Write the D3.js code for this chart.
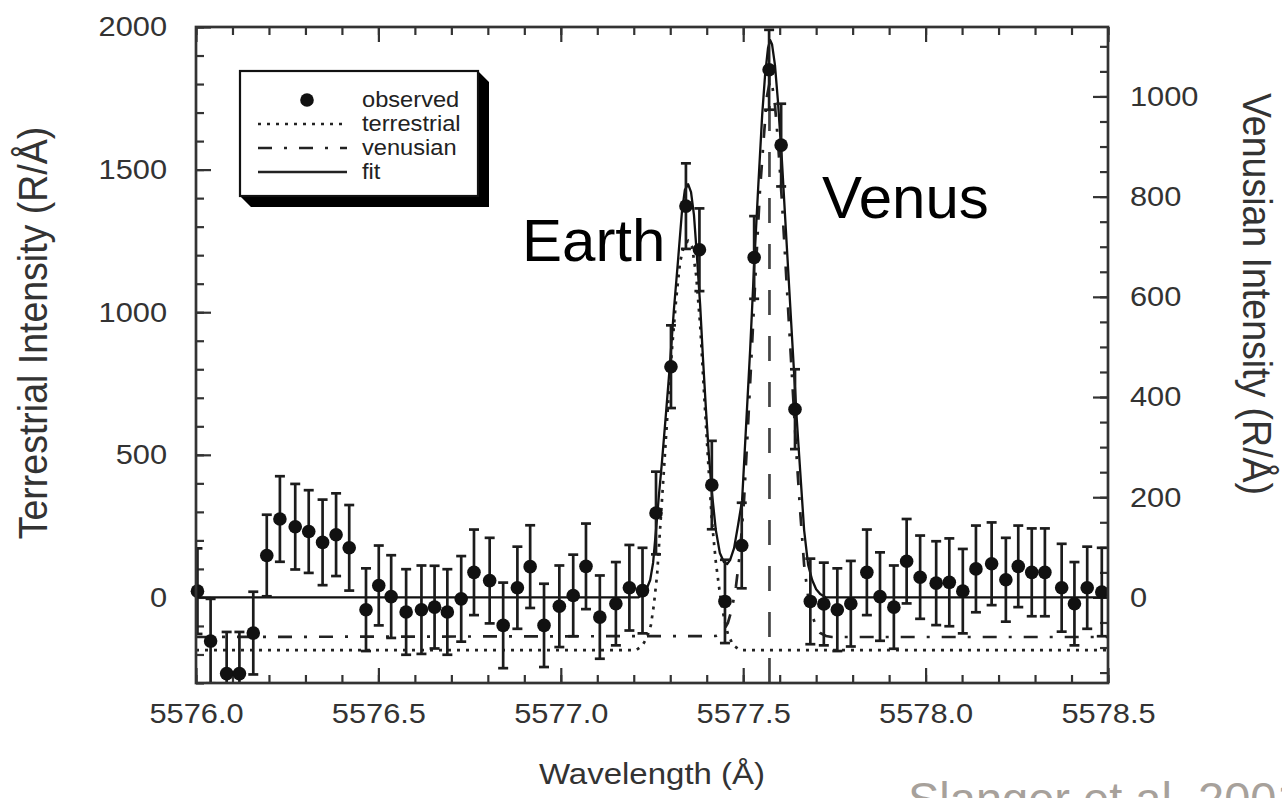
<!DOCTYPE html>
<html>
<head>
<meta charset="utf-8">
<title>O(1S) green line: terrestrial and venusian emission</title>
<script src="https://cdn.jsdelivr.net/npm/d3@7"></script>
<style>
  html, body { margin: 0; padding: 0; background: #fff; }
  svg { display: block; }
</style>
</head>
<body>
<svg id="chart" width="1282" height="798"></svg>
<script>
// ---------- data ----------
// observed spectrum: wavelength (Å), terrestrial-scale intensity (R/Å), 1-sigma error
const wavelength = [5576.004, 5576.040, 5576.084, 5576.119, 5576.157, 5576.194, 5576.230, 5576.272, 5576.309, 5576.347,
  5576.384, 5576.420, 5576.466, 5576.501, 5576.535, 5576.576, 5576.618, 5576.654, 5576.689, 5576.727,
  5576.762, 5576.805, 5576.842, 5576.881, 5576.916, 5576.954, 5576.996, 5577.034, 5577.069, 5577.107,
  5577.151, 5577.188, 5577.224, 5577.261, 5577.302, 5577.343, 5577.380, 5577.414, 5577.450, 5577.496,
  5577.530, 5577.571, 5577.604, 5577.642, 5577.684, 5577.721, 5577.758, 5577.795, 5577.839, 5577.875,
  5577.913, 5577.948, 5577.985, 5578.029, 5578.065, 5578.102, 5578.138, 5578.181, 5578.220, 5578.254,
  5578.291, 5578.327, 5578.373, 5578.408, 5578.443, 5578.483];
const observed = [22, -153, -267, -267, -125, 147, 275, 248, 231, 193,
  220, 174, -43, 42, 3, -51, -43, -34, -51, -5,
  88, 59, -98, 34, 108, -98, -31, 7, 109, -69,
  -22, 34, 24, 296, 809, 1372, 1219, 394, -14, 182,
  1192, 1850, 1586, 660, -14, -23, -43, -22, 88, 3,
  -34, 127, 71, 50, 53, 22, 100, 118, 62, 109,
  88, 88, 34, -22, 34, 19];
const observedErr = [150, 148, 146, 146, 145, 143, 150, 150, 145, 150,
  145, 150, 145, 140, 145, 150, 155, 145, 150, 150,
  150, 150, 150, 144, 145, 146, 143, 143, 150, 146,
  146, 150, 150, 145, 145, 150, 145, 155, 146, 150,
  145, 140, 145, 140, 150, 145, 145, 150, 150, 155,
  146, 148, 146, 147, 154, 148, 152, 145, 147, 143,
  154, 154, 154, 146, 144, 155];

// total fit (terrestrial scale)
const fitWavelength = [5576.000, 5577.212, 5577.223, 5577.234, 5577.245, 5577.253, 5577.261, 5577.269, 5577.277, 5577.288,
  5577.299, 5577.310, 5577.321, 5577.332, 5577.340, 5577.349, 5577.357, 5577.365, 5577.373, 5577.382,
  5577.390, 5577.398, 5577.406, 5577.414, 5577.425, 5577.436, 5577.447, 5577.456, 5577.464, 5577.475,
  5577.486, 5577.497, 5577.508, 5577.519, 5577.530, 5577.541, 5577.552, 5577.560, 5577.568, 5577.574,
  5577.579, 5577.587, 5577.595, 5577.606, 5577.617, 5577.628, 5577.639, 5577.647, 5577.656, 5577.667,
  5577.678, 5577.689, 5577.700, 5577.711, 5577.727, 5578.500];
const fitValue = [0, 0, 8, 26, 61, 121, 236, 359, 471, 640,
  815, 1008, 1176, 1351, 1428, 1449, 1421, 1341, 1200, 1025,
  832, 657, 499, 370, 236, 156, 124, 117, 131, 173,
  254, 341, 604, 867, 1165, 1435, 1691, 1832, 1926, 1954,
  1940, 1867, 1744, 1534, 1288, 1043, 797, 622, 447, 236,
  114, 61, 29, 12, 0, 0];

// terrestrial component (terrestrial scale, drawn offset below zero)
const terrWavelength = [5576.000, 5577.206, 5577.223, 5577.236, 5577.247, 5577.255, 5577.264, 5577.272, 5577.283, 5577.294,
  5577.305, 5577.316, 5577.327, 5577.338, 5577.349, 5577.360, 5577.371, 5577.382, 5577.393, 5577.404,
  5577.414, 5577.425, 5577.436, 5577.447, 5577.458, 5577.472, 5577.491, 5578.500];
const terrValue = [-185, -185, -170, -141, -97, -27, 79, 236, 453, 675,
  874, 1043, 1176, 1236, 1250, 1229, 1130, 955, 710, 475,
  271, 124, 15, -69, -128, -167, -185, -185];

// venusian component (venusian scale, drawn offset below zero)
const venWavelength = [5576.000, 5577.425, 5577.436, 5577.447, 5577.458, 5577.469, 5577.480, 5577.491, 5577.502, 5577.513,
  5577.524, 5577.535, 5577.546, 5577.557, 5577.565, 5577.574, 5577.579, 5577.587, 5577.595, 5577.606,
  5577.617, 5577.628, 5577.639, 5577.647, 5577.656, 5577.667, 5577.678, 5577.689, 5577.700, 5577.711,
  5577.727, 5577.743, 5578.500];
const venValue = [-79, -77, -73, -65, -51, -23, 21, 89, 190, 340,
  500, 661, 813, 923, 1000, 1033, 1025, 983, 913, 793,
  653, 514, 374, 274, 174, 65, 1, -35, -59, -71,
  -77, -79, -79];

// rest wavelength of the venusian line (vertical marker)
const venusLineCenter = 5577.572;
const venusLineTop = 1850;

// axes
const xDomain = [5576.0, 5578.5];
const terrDomain = [-300, 2000];
const venDomain = [-170.8, 1138.6];
const xTickValues = [5576.0, 5576.5, 5577.0, 5577.5, 5578.0, 5578.5];
const xTickLabels = ["5576.0", "5576.5", "5577.0", "5577.5", "5578.0", "5578.5"];
const terrTickValues = [0, 500, 1000, 1500, 2000];
const terrTickLabels = ["0", "500", "1000", "1500", "2000"];
const venTickValues = [0, 200, 400, 600, 800, 1000];
const venTickLabels = ["0", "200", "400", "600", "800", "1000"];

const legendEntries = ["observed", "terrestrial", "venusian", "fit"];

// ---------- layout ----------
const frame = { left: 196, right: 1108, top: 27, bottom: 683 };
const ink = "#333";
const FONT = "'Liberation Sans', Arial, Helvetica, sans-serif";
const WIDEN = 1.1;   // glyph width factor for the plot lettering

const svg = d3.select("#chart");

const x = d3.scaleLinear().domain(xDomain).range([frame.left, frame.right]);
const yT = d3.scaleLinear().domain(terrDomain).range([frame.bottom, frame.top]);
const yV = d3.scaleLinear().domain(venDomain).range([frame.bottom, frame.top]);

svg.append("defs").append("clipPath").attr("id", "plotClip")
  .append("rect")
  .attr("x", frame.left).attr("y", frame.top)
  .attr("width", frame.right - frame.left).attr("height", frame.bottom - frame.top);

// widen text horizontally around its own anchor
function widen(sel, k = WIDEN) {
  sel.each(function () {
    const t = d3.select(this);
    const x0 = +t.attr("x") || 0;
    t.attr("x", x0 / k).attr("transform", `scale(${k},1)`);
  });
}

function styleAxis(g, size) {
  g.select(".domain").remove();
  g.selectAll("line").attr("stroke", ink).attr("stroke-width", 2.2);
  g.selectAll("text")
    .attr("fill", ink)
    .style("font-family", FONT)
    .style("font-size", size + "px");
}

const majorLen = 15, minorLen = 8;

// bottom axis
const xMinor = d3.range(0, 26).map(i => 5576 + i * 0.1);
svg.append("g").attr("transform", `translate(0,${frame.bottom})`)
  .call(d3.axisBottom(x).tickValues(xMinor).tickSize(-minorLen).tickSizeOuter(0).tickFormat(""))
  .call(g => styleAxis(g, 28));
const gxb = svg.append("g").attr("transform", `translate(0,${frame.bottom})`)
  .call(d3.axisBottom(x).tickValues(xTickValues).tickSize(-majorLen).tickSizeOuter(0).tickPadding(20)
    .tickFormat((d, i) => xTickLabels[i]))
  .call(g => styleAxis(g, 28));
widen(gxb.selectAll("text"));

// top axis
svg.append("g").attr("transform", `translate(0,${frame.top})`)
  .call(d3.axisTop(x).tickValues(xMinor).tickSize(-minorLen).tickSizeOuter(0).tickFormat(""))
  .call(g => styleAxis(g, 28));
svg.append("g").attr("transform", `translate(0,${frame.top})`)
  .call(d3.axisTop(x).tickValues(xTickValues).tickSize(-majorLen).tickSizeOuter(0).tickFormat(""))
  .call(g => styleAxis(g, 28));

// left axis (terrestrial)
const tMinor = d3.range(-3, 21).map(i => i * 100);
svg.append("g").attr("transform", `translate(${frame.left},0)`)
  .call(d3.axisLeft(yT).tickValues(tMinor).tickSize(-minorLen).tickSizeOuter(0).tickFormat(""))
  .call(g => styleAxis(g, 28));
const gyl = svg.append("g").attr("transform", `translate(${frame.left},0)`)
  .call(d3.axisLeft(yT).tickValues(terrTickValues).tickSize(-majorLen).tickSizeOuter(0).tickPadding(29)
    .tickFormat((d, i) => terrTickLabels[i]))
  .call(g => styleAxis(g, 28));
widen(gyl.selectAll("text"));

// right axis (venusian)
const vMinor = d3.range(-3, 23).map(i => i * 50);
svg.append("g").attr("transform", `translate(${frame.right},0)`)
  .call(d3.axisRight(yV).tickValues(vMinor).tickSize(-minorLen).tickSizeOuter(0).tickFormat(""))
  .call(g => styleAxis(g, 28));
const gyr = svg.append("g").attr("transform", `translate(${frame.right},0)`)
  .call(d3.axisRight(yV).tickValues(venTickValues).tickSize(-majorLen).tickSizeOuter(0).tickPadding(22)
    .tickFormat((d, i) => venTickLabels[i]))
  .call(g => styleAxis(g, 28));
widen(gyr.selectAll("text"));

// ---------- curves ----------
const plot = svg.append("g").attr("clip-path", "url(#plotClip)");

const terrLine = d3.line().x((d, i) => x(terrWavelength[i])).y(d => yT(d));
const venLine = d3.line().x((d, i) => x(venWavelength[i])).y(d => yV(d));
const fitLine = d3.line().x((d, i) => x(fitWavelength[i])).y(d => yT(d));

plot.append("path").attr("d", terrLine(terrValue))
  .attr("fill", "none").attr("stroke", "#222").attr("stroke-width", 2.7)
  .attr("stroke-dasharray", "3,6");

plot.append("path").attr("d", venLine(venValue))
  .attr("fill", "none").attr("stroke", "#222").attr("stroke-width", 2.7)
  .attr("stroke-dasharray", "14,12,3,12");

plot.append("line")
  .attr("x1", x(venusLineCenter)).attr("x2", x(venusLineCenter))
  .attr("y1", yT(terrDomain[0])).attr("y2", yT(venusLineTop))
  .attr("stroke", "#444").attr("stroke-width", 2.7)
  .attr("stroke-dasharray", "25,21");

plot.append("path").attr("d", fitLine(fitValue))
  .attr("fill", "none").attr("stroke", "#111").attr("stroke-width", 2.3)
  .attr("stroke-linejoin", "round");

// error bars
const cap = 5;
const eb = plot.append("g").attr("stroke", "#1c1c1c").attr("stroke-width", 2.7);
wavelength.forEach((w, i) => {
  const cx = x(w), lo = yT(observed[i] - observedErr[i]), hi = yT(observed[i] + observedErr[i]);
  eb.append("line").attr("x1", cx).attr("x2", cx).attr("y1", lo).attr("y2", hi);
  eb.append("line").attr("x1", cx - cap).attr("x2", cx + cap).attr("y1", hi).attr("y2", hi);
  eb.append("line").attr("x1", cx - cap).attr("x2", cx + cap).attr("y1", lo).attr("y2", lo);
});

// observed points
svg.append("g").selectAll("circle")
  .data(observed)
  .join("circle")
  .attr("cx", (d, i) => x(wavelength[i]))
  .attr("cy", d => yT(d))
  .attr("r", 6.8)
  .attr("fill", "#111");

// frame
svg.append("rect")
  .attr("x", frame.left).attr("y", frame.top)
  .attr("width", frame.right - frame.left).attr("height", frame.bottom - frame.top)
  .attr("fill", "none").attr("stroke", ink).attr("stroke-width", 2.7);

// ---------- legend ----------
const lg = { x0: 240, y0: 71, x1: 478, y1: 196, depth: 11 };
const legend = svg.append("g");
legend.append("polygon")
  .attr("points", [
    [lg.x1, lg.y0], [lg.x1 + lg.depth, lg.y0 + lg.depth], [lg.x1 + lg.depth, lg.y1 + lg.depth],
    [lg.x0 + lg.depth, lg.y1 + lg.depth], [lg.x0, lg.y1], [lg.x1, lg.y1]
  ].map(p => p.join(",")).join(" "))
  .attr("fill", "#000");
legend.append("rect")
  .attr("x", lg.x0).attr("y", lg.y0)
  .attr("width", lg.x1 - lg.x0).attr("height", lg.y1 - lg.y0)
  .attr("fill", "#fff").attr("stroke", "#111").attr("stroke-width", 2.2);

const rowY = [100, 124, 148, 172];
const sampleX = [258, 347];
legend.append("circle").attr("cx", 307).attr("cy", rowY[0]).attr("r", 6.8).attr("fill", "#111");
const sampleDash = [null, "3,6", "14,12,3,12", null];
[1, 2, 3].forEach(i => {
  legend.append("line")
    .attr("x1", sampleX[0]).attr("x2", sampleX[1])
    .attr("y1", rowY[i]).attr("y2", rowY[i])
    .attr("stroke", "#222").attr("stroke-width", i === 3 ? 2.3 : 2.7)
    .attr("stroke-dasharray", sampleDash[i]);
});
legend.selectAll("g.entry")
  .data(legendEntries)
  .join("g").attr("class", "entry")
  .attr("transform", (d, i) => `translate(362,${rowY[i] + 7})`)
  .append("text")
  .attr("transform", `scale(${WIDEN},1)`)
  .attr("fill", "#222")
  .style("font-family", FONT)
  .style("font-size", "21.5px")
  .text(d => d);

// ---------- titles ----------
svg.append("g").attr("transform", "translate(652,784)")
  .append("text")
  .attr("transform", `scale(${WIDEN},1)`)
  .attr("text-anchor", "middle")
  .attr("fill", ink)
  .style("font-family", FONT).style("font-size", "30px")
  .text("Wavelength (Å)");

svg.append("text")
  .attr("transform", `translate(47,333) rotate(-90) scale(1,${WIDEN})`)
  .attr("text-anchor", "middle")
  .attr("fill", ink)
  .style("font-family", FONT).style("font-size", "37.5px")
  .text("Terrestrial Intensity (R/Å)");

svg.append("text")
  .attr("transform", `translate(1243,294) rotate(90) scale(1,${WIDEN})`)
  .attr("text-anchor", "middle")
  .attr("fill", ink)
  .style("font-family", FONT).style("font-size", "37.5px")
  .text("Venusian Intensity (R/Å)");

// ---------- annotations ----------
svg.append("text").attr("x", 522).attr("y", 261)
  .attr("fill", "#000")
  .style("font-family", FONT).style("font-size", "60px")
  .text("Earth");
svg.append("text").attr("x", 822).attr("y", 218)
  .attr("fill", "#000")
  .style("font-family", FONT).style("font-size", "60px")
  .text("Venus");
// source credit, running off the lower right corner of the page
svg.append("text").attr("x", 908).attr("y", 815)
  .attr("fill", "#a7a19b")
  .style("font-family", FONT).style("font-size", "47px")
  .text("Slanger et al. 2001");
</script>
</body>
</html>
